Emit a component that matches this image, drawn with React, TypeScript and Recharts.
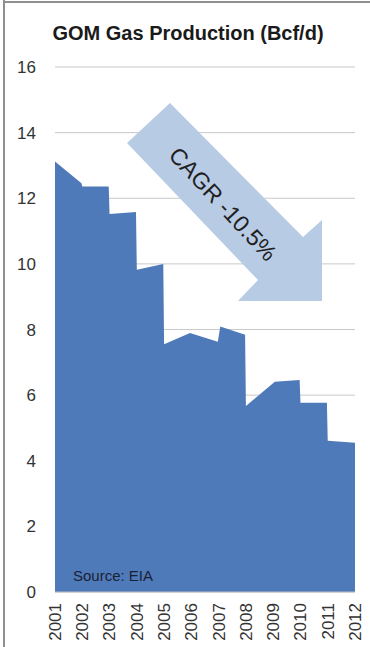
import React from 'react';
import { AreaChart, Area, XAxis, YAxis, CartesianGrid } from 'recharts';

// year ticks along the bottom
const years = [2001, 2002, 2003, 2004, 2005, 2006, 2007, 2008, 2009, 2010, 2011, 2012];

// sample time (fractional year) and gas production, Bcf/d
const sampleTime = [
  2001, 2001.97, 2002, 2002.97, 2003, 2003.97, 2004, 2004.97, 2005, 2005.95,
  2006.97, 2007.06, 2007.97, 2008, 2009.06, 2009.97, 2010, 2010.97, 2011, 2012,
];
const production = [
  13.12, 12.46, 12.36, 12.36, 11.52, 11.58, 9.82, 10.0, 7.55, 7.89,
  7.63, 8.09, 7.84, 5.67, 6.41, 6.46, 5.77, 5.77, 4.61, 4.55,
];

const yTicks = [0, 2, 4, 6, 8, 10, 12, 14, 16];

const chartData = sampleTime.map((t, i) => ({ t, v: production[i] }));

const FONT = 'Liberation Sans, Arial, sans-serif';

const YearTick = ({ x, y, payload }: any) => (
  <text
    x={x}
    y={y + 3}
    dy="0.35em"
    transform={`rotate(-90, ${x}, ${y + 3})`}
    textAnchor="end"
    fill="#333"
    fontSize={17}
    fontFamily={FONT}
  >
    {payload.value}
  </text>
);

export default function App() {
  return (
    <div style={{ position: 'absolute', left: 0, top: 0, width: 370, height: 647, background: '#fff' }}>
      <AreaChart
        width={370}
        height={647}
        data={chartData}
        margin={{ top: 67, right: 15, bottom: 0, left: 0 }}
      >
        <CartesianGrid vertical={false} stroke="#c9c9c9" />
        <XAxis
          dataKey="t"
          type="number"
          domain={[2001, 2012]}
          ticks={years}
          interval={0}
          height={55}
          tick={<YearTick />}
          tickLine={false}
          axisLine={{ stroke: '#bdbdbd' }}
        />
        <YAxis
          domain={[0, 16]}
          ticks={yTicks}
          width={55}
          axisLine={false}
          tickLine={false}
          tickMargin={13}
          tick={{ fill: '#333', fontSize: 17, fontFamily: FONT }}
        />
        <Area
          type="linear"
          dataKey="v"
          stroke="none"
          fill="#4f7ab9"
          fillOpacity={1}
          isAnimationActive={false}
        />
      </AreaChart>
      <svg
        width={370}
        height={647}
        style={{ position: 'absolute', left: 0, top: 0, pointerEvents: 'none' }}
      >
        <line x1={4} y1={0} x2={4} y2={647} stroke="#8f8f8f" strokeWidth={2} />
        <line x1={3} y1={2} x2={370} y2={2} stroke="#8f8f8f" strokeWidth={2} />
        <text x={188} y={40} textAnchor="middle" fontSize={20} fontWeight="bold" fill="#1a1a1a" fontFamily={FONT}>
          GOM Gas Production (Bcf/d)
        </text>
        <polygon
          points="170,103 303,237 322,220 322,301 238,301 258,280 127,143"
          fill="#b8cbe5"
        />
        <text
          x={223}
          y={204}
          dy="0.35em"
          textAnchor="middle"
          fontSize={23}
          fill="#1f1f1f"
          fontFamily={FONT}
          transform="rotate(47, 223, 204)"
        >
          CAGR -10.5%
        </text>
        <text x={73} y={581} fontSize={15} fill="#1a1f33" fontFamily={FONT}>
          Source: EIA
        </text>
      </svg>
    </div>
  );
}
